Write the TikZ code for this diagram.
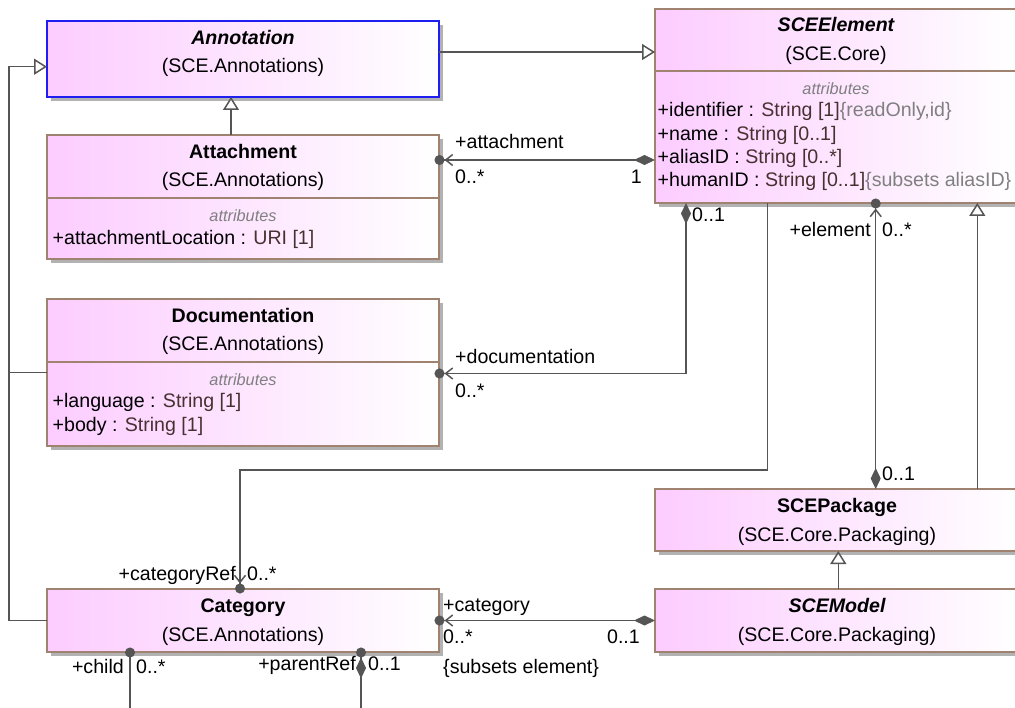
\documentclass[tikz,border=0pt]{standalone}
\usepackage{fontspec}
\setmainfont{Liberation Sans}
\usetikzlibrary{arrows.meta,shadows,calc}

\definecolor{boxpink}{RGB}{252,204,255}
\definecolor{boxedge}{RGB}{160,130,112}
\definecolor{annedge}{RGB}{30,30,240}
\definecolor{wire}{RGB}{85,85,85}
\definecolor{typecol}{RGB}{72,48,48}
\definecolor{tagcol}{RGB}{128,128,128}

\newcommand\umlfont{\fontsize{19.6}{23}\selectfont}
\newcommand\umlsmallfont{\fontsize{16.3}{19}\selectfont}

\tikzset{
  classbox/.style={rectangle, draw=boxedge, line width=1.3pt,
    left color=boxpink, right color=white, inner sep=0pt, outer sep=0pt,
    anchor=north west,
    drop shadow={shadow xshift=4pt, shadow yshift=-4pt, fill=black!30, opacity=1}},
  sepline/.style={draw=boxedge, line width=1.3pt},
  txt/.style={inner sep=0pt, font=\umlfont},
  cname/.style={txt, anchor=base},
  attr/.style={txt, anchor=base west},
  attrhead/.style={inner sep=0pt, font=\umlsmallfont\itshape, text=tagcol, anchor=base},
  lbl/.style={txt, anchor=base west},
  lblr/.style={txt, anchor=base east},
  wireline/.style={draw=wire, line width=1.5pt},
  gen/.style={wireline, -{Triangle[open, length=13pt, width=16pt, fill=white]}},
  navend/.style={wireline, shorten >=-4.5pt,
    -{Straight Barb[length=7pt, width=11pt] Circle[length=10pt]}},
  comp/.style={wireline, shorten >=-4.5pt,
    {Diamond[length=21pt, width=10pt]}-{Straight Barb[length=7pt, width=11pt] Circle[length=10pt]}},
}

\begin{document}
\begin{tikzpicture}[x=1pt, y=-1pt]
\useasboundingbox (0,0) rectangle (1015,708);
\clip (0,0) rectangle (1015,708);

% ---- class boxes ----
\node[classbox, draw=annedge, minimum width=392pt, minimum height=76pt] (ann) at (47,21) {};
\node[classbox, minimum width=392pt, minimum height=124pt] (att) at (47,135) {};
\node[classbox, minimum width=392pt, minimum height=147pt] (doc) at (47,299) {};
\node[classbox, minimum width=392pt, minimum height=63pt] (cat) at (47,589) {};
\node[classbox, minimum width=362pt, minimum height=194pt] (elem) at (655,9) {};
\node[classbox, minimum width=364pt, minimum height=62pt] (pkg) at (655,489) {};
\node[classbox, minimum width=364pt, minimum height=63pt] (model) at (655,589) {};

% compartment separators
\draw[sepline] ($(att.north west)+(0,63)$) -- ($(att.north east)+(0,63)$);
\draw[sepline] ($(doc.north west)+(0,63)$) -- ($(doc.north east)+(0,63)$);
\draw[sepline] ($(elem.north west)+(0,62)$) -- ($(elem.north east)+(0,62)$);

% ---- class texts ----
\node[cname] (annT) at (243,44.5) {\bfseries\itshape Annotation};
\node[cname] (annP) at (243,73) {(SCE.Annotations)};

\node[cname] (attT) at (243,158.5) {\bfseries Attachment};
\node[cname] (attP) at (243,187) {(SCE.Annotations)};
\node[attrhead] (attH) at (243,221.5) {attributes};
\node[attr] (attA1) at (52.5,244.3) {+attachmentLocation : \textcolor{typecol}{URI [1]}};

\node[cname] (docT) at (243,322.5) {\bfseries Documentation};
\node[cname] (docP) at (243,351) {(SCE.Annotations)};
\node[attrhead] (docH) at (243,385.5) {attributes};
\node[attr] (docA1) at (52.5,408) {+language : \textcolor{typecol}{String [1]}};
\node[attr] (docA2) at (52.5,431.3) {+body : \textcolor{typecol}{String [1]}};

\node[cname] (catT) at (243,612.5) {\bfseries Category};
\node[cname] (catP) at (243,641) {(SCE.Annotations)};

\node[cname] (elemT) at (836,32) {\bfseries\itshape SCEElement};
\node[cname] (elemP) at (836,61) {(SCE.Core)};
\node[attrhead] (elemH) at (836,95) {attributes};
\node[attr] (elemA1) at (657.5,117) {+identifier : \textcolor{typecol}{String [1]}\textcolor{tagcol}{\{readOnly,id\}}};
\node[attr] (elemA2) at (657.5,140.3) {+name : \textcolor{typecol}{String [0..1]}};
\node[attr] (elemA3) at (657.5,163.6) {+aliasID : \textcolor{typecol}{String [0..*]}};
\node[attr] (elemA4) at (657.5,187) {+humanID : \textcolor{typecol}{String [0..1]}\textcolor{tagcol}{\{subsets aliasID\}}};

\node[cname] (pkgT) at (837,512.5) {\bfseries SCEPackage};
\node[cname] (pkgP) at (837,541) {(SCE.Core.Packaging)};

\node[cname] (modelT) at (837,612.5) {\bfseries\itshape SCEModel};
\node[cname] (modelP) at (837,641) {(SCE.Core.Packaging)};

% ---- connection points ----
\coordinate (trunk) at (9,0);
\coordinate (annIn) at ($(ann.north west)+(0,45.7)$);
\coordinate (elemA) at ($(elem.north west)+(0,151)$);
\coordinate (elemD) at ($(elem.south west)+(31,0)$);
\coordinate (docIn) at ($(doc.north east)+(0,74.5)$);
\coordinate (elemC) at ($(elem.south west)+(112.7,0)$);
\coordinate (crBend) at (240,470);
\coordinate (pkgE) at ($(pkg.north west)+(220.7,0)$);
\coordinate (pkgG) at ($(pkg.north west)+(322.3,0)$);
\coordinate (modG) at ($(model.north west)+(183.3,0)$);
\coordinate (attG) at ($(att.north west)+(184,0)$);
\coordinate (childTop) at ($(cat.south west)+(83,0)$);
\coordinate (childEnd) at (130,720);
\coordinate (parTop) at ($(cat.south west)+(314,0)$);
\coordinate (parEnd) at (361,720);

% ---- generalizations ----
\draw[gen] ($(ann.north east)+(0,31)$) -- ($(elem.north west)+(0,43)$);
\draw[gen] (attG) -- (attG |- ann.south);
\draw[gen] (cat.west) -- (cat.west -| trunk) -- (annIn -| trunk) -- (annIn);
\draw[wireline] (doc.west) -- (doc.west -| trunk);
\draw[gen] (pkgG) -- (pkgG |- elem.south);
\draw[gen] (modG) -- (modG |- pkg.south);

% ---- associations ----
\draw[comp] (elemA) -- (elemA -| att.east);
\draw[comp] (elemD) |- (docIn);
\draw[navend] (elemC) |- (crBend) -- (crBend |- cat.north);
\draw[comp] (pkgE) -- (pkgE |- elem.south);
\draw[comp] (model.west) -- (model.west -| cat.east);
\draw[wireline, shorten <=-4.5pt, {Circle[length=10pt]}-] (childTop) -- (childEnd);
\draw[wireline, shorten <=-4.5pt, {Circle[length=10pt] Diamond[length=21pt, width=10pt]}-] (parTop) -- (parEnd);

% ---- role names and multiplicities ----
\node[lbl] (l1) at (455,148.5) {+attachment};
\node[lbl] (l2) at (455,184) {0..*};
\node[lblr] (l3) at (642,184) {1};
\node[lbl] (l4) at (692,222) {0..1};
\node[lbl] (l5) at (455,363.5) {+documentation};
\node[lbl] (l6) at (455,397.5) {0..*};
\node[lblr] (l7) at (871,236.7) {+element};
\node[lbl] (l8) at (882,236.7) {0..*};
\node[lbl] (l9) at (882,480.7) {0..1};
\node[lblr] (l10) at (236,580) {+categoryRef};
\node[lbl] (l11) at (247,580) {0..*};
\node[lbl] (l12) at (443,611) {+category};
\node[lbl] (l13) at (443,643) {0..*};
\node[lblr] (l14) at (640,643) {0..1};
\node[lbl] (l15) at (443,673) {\{subsets element\}};
\node[lblr] (l16) at (124,673) {+child};
\node[lbl] (l17) at (136,673) {0..*};
\node[lblr] (l18) at (356,670) {+parentRef};
\node[lbl] (l19) at (368,670) {0..1};
\end{tikzpicture}
\end{document}
